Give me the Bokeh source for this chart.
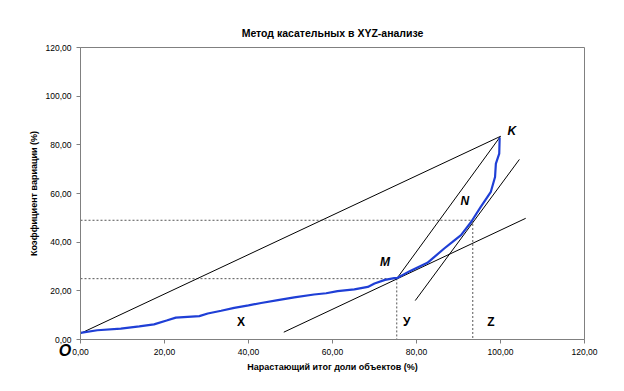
from bokeh.plotting import figure
from bokeh.models import Range1d, FixedTicker, CustomJSTickFormatter, ColumnDataSource, LinearAxis
from bokeh.core.properties import value
from bokeh.embed import file_html
from bokeh.resources import INLINE

# Cumulative share of objects (%) vs coefficient of variation (%)
curve_x = [0.0, 4.0, 9.6, 14.0, 17.5, 20.5, 22.7, 28.3, 30.3, 33.5, 36.6, 40.0, 43.0, 47.0, 50.9,
           55.6, 58.5, 61.2, 65.2, 68.4, 70.0, 72.5, 74.7, 75.3, 78.5, 82.6, 86.6, 88.5, 90.6,
           93.0, 95.3, 97.7, 98.7, 98.9, 99.7, 99.8]
curve_y = [2.7, 3.8, 4.5, 5.4, 6.2, 7.8, 9.0, 9.6, 10.7, 11.8, 13.0, 14.0, 15.0, 16.2, 17.3,
           18.5, 19.0, 19.9, 20.6, 21.6, 23.0, 24.5, 25.2, 25.2, 28.2, 31.5, 37.4, 40.0, 42.9,
           48.3, 54.5, 60.7, 66.8, 72.3, 76.4, 83.0]

pt_O = (0.0, 2.5)
pt_K = (100.0, 83.5)
pt_M = (75.3, 25.0)
pt_N = (93.4, 49.0)
tangent_M = ([48.4, 106.0], [3.0, 49.8])
tangent_N = ([79.7, 104.5], [16.0, 74.0])

x_ticks = [0, 20, 40, 60, 80, 100, 120]
y_ticks = [0, 20, 40, 60, 80, 100, 120]
origin_tick = [0]
origin_label = "O" + "\u00a0" * 7

title = "Метод касательных в XYZ-анализе"
x_label = "Нарастающий итог доли объектов (%)"
y_label = "Коэффициент вариации (%)"

point_labels = ["K", "N", "M"]
point_label_x = [102.7, 91.5, 72.5]
point_label_y = [85.6, 56.8, 31.8]
zone_labels = ["X", "У", "Z"]
zone_label_x = [38.2, 77.7, 97.7]
zone_label_y = [7.1, 7.1, 7.1]

FONT = "Liberation Sans"

p = figure(width=624, height=391, output_backend="svg", toolbar_location=None,
           x_range=Range1d(0, 120), y_range=Range1d(0, 120),
           min_border_left=80, min_border_right=40, min_border_top=47, min_border_bottom=52)
p.title.text = title
p.title.align = "center"
p.title.text_font = FONT
p.title.text_font_size = "10.5px"
p.title.text_font_style = "bold"
p.title.text_color = "#000000"
p.title.offset = 0
p.title.padding = 4

p.xgrid.visible = False
p.ygrid.visible = False
p.outline_line_color = "#808080"
p.outline_line_width = 1
p.background_fill_color = "white"
p.border_fill_color = "white"

fmt = CustomJSTickFormatter(code="return tick.toFixed(2).replace('.', ',');")
for ax, ticks, lab in ((p.xaxis[0], x_ticks, x_label), (p.yaxis[0], y_ticks, y_label)):
    ax.ticker = FixedTicker(ticks=ticks)
    ax.formatter = fmt
    ax.minor_tick_line_color = None
    ax.major_tick_out = 4
    ax.major_tick_in = 0
    ax.axis_line_color = "#808080"
    ax.major_tick_line_color = "#808080"
    ax.major_label_text_font = FONT
    ax.major_label_text_font_size = "8.5px"
    ax.major_label_text_color = "#000000"
    ax.axis_label = lab
    ax.axis_label_text_font = FONT
    ax.axis_label_text_font_size = "9px"
    ax.axis_label_text_font_style = "bold"
    ax.axis_label_text_color = "#000000"
p.xaxis[0].axis_label_standoff = 4
p.yaxis[0].axis_label_standoff = 4

# extra axis carrying the big origin letter "O" under the plot corner
o_axis = LinearAxis(ticker=FixedTicker(ticks=origin_tick),
                    major_label_overrides={origin_tick[0]: origin_label},
                    axis_line_color=None, major_tick_line_color=None, minor_tick_line_color=None,
                    major_tick_out=0, major_tick_in=0, major_label_standoff=-33,
                    major_label_text_font=FONT, major_label_text_font_size="16px",
                    major_label_text_font_style="bold italic", major_label_text_color="black")
p.add_layout(o_axis, "below")

# dashed guide lines
dash = dict(line_color="#555555", line_width=1, line_dash="2 2")
p.line([0, pt_M[0], pt_M[0]], [pt_M[1], pt_M[1], 0], **dash)
p.line([0, pt_N[0], pt_N[0]], [pt_N[1], pt_N[1], 0], **dash)

# chords and tangents
p.line([pt_O[0], pt_K[0]], [pt_O[1], pt_K[1]], line_color="black", line_width=1)
p.line([pt_M[0], pt_K[0]], [pt_M[1], pt_K[1]], line_color="black", line_width=1)
p.line(tangent_M[0], tangent_M[1], line_color="black", line_width=1)
p.line(tangent_N[0], tangent_N[1], line_color="black", line_width=1)

# the curve
p.line(curve_x, curve_y, line_color="#1f3fd6", line_width=2.2)

src_p = ColumnDataSource(dict(x=point_label_x, y=point_label_y, t=point_labels))
p.text("x", "y", text="t", source=src_p, text_font=value(FONT), text_font_size="12px",
       text_font_style="bold italic", text_align="center", text_baseline="middle", text_color="black")
src_z = ColumnDataSource(dict(x=zone_label_x, y=zone_label_y, t=zone_labels))
p.text("x", "y", text="t", source=src_z, text_font=value(FONT), text_font_size="12px",
       text_font_style="bold", text_align="center", text_baseline="middle", text_color="black")

open("out.html", "w").write(file_html(p, INLINE))
